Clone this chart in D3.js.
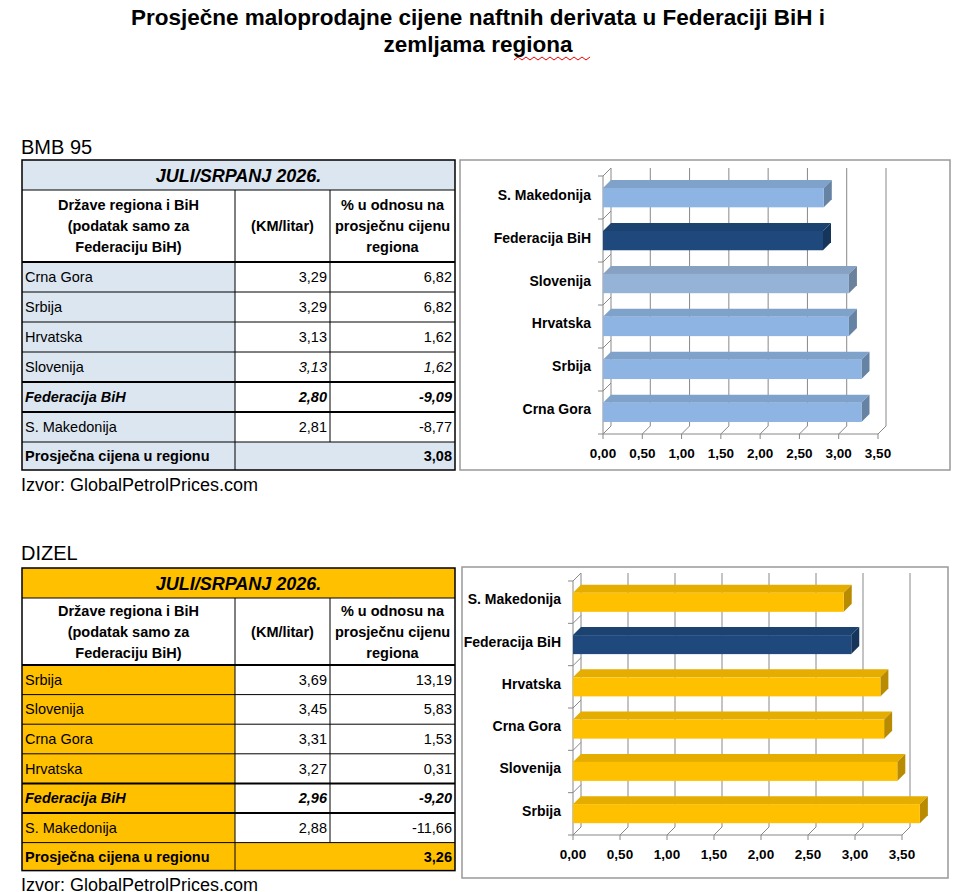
<!DOCTYPE html>
<html><head><meta charset="utf-8">
<script src="https://cdn.jsdelivr.net/npm/d3@7"></script>
<style>body{margin:0;background:#fff}</style>
</head><body>
<script>
const W = 969, H = 892;
const narrow = '"Liberation Sans Narrow","Arial Narrow","Liberation Sans",sans-serif';

// BMB 95 table
const bmbCountries = ["Crna Gora", "Srbija", "Hrvatska", "Slovenija", "Federacija BiH", "S. Makedonija"];
const bmbPrices = ["3,29", "3,29", "3,13", "3,13", "2,80", "2,81"];
const bmbPct = ["6,82", "6,82", "1,62", "1,62", "-9,09", "-8,77"];
const bmbAvg = "3,08";
// BMB chart (top to bottom)
const bmbBarNames = ["S. Makedonija", "Federacija BiH", "Slovenija", "Hrvatska", "Srbija", "Crna Gora"];
const bmbBarValues = [2.81, 2.80, 3.13, 3.13, 3.29, 3.29];

// DIZEL table
const dizCountries = ["Srbija", "Slovenija", "Crna Gora", "Hrvatska", "Federacija BiH", "S. Makedonija"];
const dizPrices = ["3,69", "3,45", "3,31", "3,27", "2,96", "2,88"];
const dizPct = ["13,19", "5,83", "1,53", "0,31", "-9,20", "-11,66"];
const dizAvg = "3,26";
const dizBarNames = ["S. Makedonija", "Federacija BiH", "Hrvatska", "Crna Gora", "Slovenija", "Srbija"];
const dizBarValues = [2.88, 2.96, 3.27, 3.31, 3.45, 3.69];

const ticks = [0, 0.5, 1, 1.5, 2, 2.5, 3, 3.5];
const fmt = v => v.toFixed(2).replace(".", ",");

const svg = d3.select("body").append("svg").attr("width", W).attr("height", H)
  .style("font-family", "Arial, 'Liberation Sans', sans-serif");

svg.append("text").attr("x", 478).attr("y", 25).attr("text-anchor", "middle")
  .attr("font-size", 22.5).attr("font-weight", "bold")
  .text("Prosječne maloprodajne cijene naftnih derivata u Federaciji BiH i");
svg.append("text").attr("x", 478).attr("y", 52).attr("text-anchor", "middle")
  .attr("font-size", 22.5).attr("font-weight", "bold").text("zemljama regiona");
// spell-check squiggle under "regiona"
svg.append("path").attr("d", d3.range(514, 594, 4).map((x, i) => (i ? "L" : "M") + x + "," + (i % 2 ? 57 : 60)).join(""))
  .attr("fill", "none").attr("stroke", "#e00").attr("stroke-width", 1);

function drawTable(g, cfg) {
  const {x0, y0, countries, prices, pct, avg, fill, colFill, rowH, headH} = cfg;
  const cx = [x0, 235, 330, 455];
  const t = g.append("g");
  t.append("rect").attr("x", cx[0]).attr("y", y0).attr("width", cx[3] - cx[0]).attr("height", 30).attr("fill", fill);
  t.append("text").attr("x", (cx[0] + cx[3]) / 2).attr("y", y0 + 22).attr("text-anchor", "middle")
    .attr("font-family", narrow).attr("font-size", 18).attr("font-weight", "bold").attr("font-style", "italic")
    .text("JULI/SRPANJ 2026.");
  const hy = y0 + 30;
  const headers = [["Države regiona i BiH", "(podatak samo za", "Federaciju BiH)"], ["(KM/litar)"], ["% u odnosu na", "prosječnu cijenu", "regiona"]];
  headers.forEach((lines, c) => {
    const n = lines.length;
    lines.forEach((l, i) => t.append("text").attr("x", (cx[c] + cx[c + 1]) / 2)
      .attr("y", hy + headH / 2 + 5 + (i - (n - 1) / 2) * 21).attr("text-anchor", "middle")
      .attr("font-family", narrow).attr("font-size", 14.5).attr("font-weight", "bold").text(l));
  });
  const ry = hy + headH;
  countries.forEach((c, i) => {
    const y = ry + i * rowH;
    const fed = c === "Federacija BiH";
    const ital = c === "Slovenija" && cfg.italicSlo;
    t.append("rect").attr("x", cx[0]).attr("y", y).attr("width", cx[1] - cx[0]).attr("height", rowH).attr("fill", colFill);
    t.append("text").attr("x", cx[0] + 3).attr("y", y + rowH / 2 + 5).attr("font-family", narrow).attr("font-size", 14.5)
      .attr("font-weight", fed ? "bold" : null).attr("font-style", fed ? "italic" : null).text(c);
    [prices[i], pct[i]].forEach((v, k) => t.append("text").attr("x", cx[k + 2] - 3).attr("y", y + rowH / 2 + 5)
      .attr("text-anchor", "end").attr("font-family", narrow).attr("font-size", 14.5)
      .attr("font-weight", fed ? "bold" : null).attr("font-style", fed || ital ? "italic" : null).text(v));
    t.append("line").attr("x1", cx[0]).attr("x2", cx[3]).attr("y1", y).attr("y2", y)
      .attr("stroke", "#000").attr("stroke-width", (i === 0 || fed || countries[i - 1] === "Federacija BiH") ? 2 : 1);
  });
  const sy = ry + countries.length * rowH;
  const sh = cfg.sumH;
  t.append("rect").attr("x", cx[0]).attr("y", sy).attr("width", cx[3] - cx[0]).attr("height", sh).attr("fill", fill);
  t.append("text").attr("x", cx[0] + 3).attr("y", sy + sh / 2 + 5).attr("font-family", narrow).attr("font-size", 14.5)
    .attr("font-weight", "bold").text("Prosječna cijena u regionu");
  t.append("text").attr("x", cx[3] - 3).attr("y", sy + sh / 2 + 5).attr("text-anchor", "end").attr("font-family", narrow)
    .attr("font-size", 14.5).attr("font-weight", "bold").text(avg);
  t.append("line").attr("x1", cx[0]).attr("x2", cx[3]).attr("y1", sy).attr("y2", sy).attr("stroke", "#000").attr("stroke-width", 1);
  t.append("line").attr("x1", cx[0]).attr("x2", cx[3]).attr("y1", hy).attr("y2", hy).attr("stroke", "#000").attr("stroke-width", 1);
  t.append("line").attr("x1", cx[1]).attr("x2", cx[1]).attr("y1", hy).attr("y2", sy + sh).attr("stroke", "#000");
  t.append("line").attr("x1", cx[2]).attr("x2", cx[2]).attr("y1", hy).attr("y2", sy).attr("stroke", "#000");
  t.append("rect").attr("x", cx[0]).attr("y", y0).attr("width", cx[3] - cx[0]).attr("height", sy + sh - y0)
    .attr("fill", "none").attr("stroke", "#000").attr("stroke-width", 1.5);
}

function drawChart(g, cfg) {
  const {box, x0, x35, top, floor, names, values, color, colors} = cfg;
  const dx = 8, dy = -8;
  g.append("rect").attr("x", box[0]).attr("y", box[1]).attr("width", box[2]).attr("height", box[3])
    .attr("fill", "#fff").attr("stroke", "#999").attr("stroke-width", 1.5);
  const x = d3.scaleLinear().domain([0, 3.5]).range([x0, x35]);
  const y = d3.scaleBand().domain(names).range([top - dy, floor]).paddingInner(0.55).paddingOuter(0.28);
  const grid = "#888";
  ticks.forEach(t => {
    g.append("line").attr("x1", x(t) + dx).attr("x2", x(t) + dx).attr("y1", top).attr("y2", floor + dy).attr("stroke", grid);
    g.append("line").attr("x1", x(t) + dx).attr("x2", x(t)).attr("y1", floor + dy).attr("y2", floor).attr("stroke", grid);
    g.append("line").attr("x1", x(t)).attr("x2", x(t)).attr("y1", floor).attr("y2", floor + 5).attr("stroke", grid);
    g.append("text").attr("x", x(t)).attr("y", floor + 24).attr("text-anchor", "middle")
      .attr("font-family", narrow).attr("font-size", 13.5).attr("font-weight", "bold").text(fmt(t));
  });
  g.append("line").attr("x1", x0).attr("x2", x35).attr("y1", floor).attr("y2", floor).attr("stroke", grid);
  g.append("line").attr("x1", x0).attr("x2", x0).attr("y1", top - dy).attr("y2", floor).attr("stroke", grid);
  const step = (floor - (top - dy)) / names.length;
  d3.range(names.length + 1).forEach(i => {
    const yy = top - dy + i * step;
    g.append("line").attr("x1", x0 - 5).attr("x2", x0).attr("y1", yy).attr("y2", yy).attr("stroke", grid);
    g.append("line").attr("x1", x0).attr("x2", x0 + dx).attr("y1", yy).attr("y2", yy + dy).attr("stroke", grid);
  });
  names.forEach((n, i) => {
    const c = colors[i] || color;
    const bx = x0, by = y(n), bw = x(values[i]) - x0, bh = y.bandwidth();
    g.append("path").attr("d", `M${bx},${by}L${bx + dx},${by + dy}L${bx + bw + dx},${by + dy}L${bx + bw},${by}Z`)
      .attr("fill", d3.color(c).darker(0.3));
    g.append("path").attr("d", `M${bx + bw},${by}L${bx + bw + dx},${by + dy}L${bx + bw + dx},${by + bh + dy}L${bx + bw},${by + bh}Z`)
      .attr("fill", d3.color(c).darker(0.9));
    g.append("rect").attr("x", bx).attr("y", by).attr("width", bw).attr("height", bh).attr("fill", c);
    g.append("text").attr("x", x0 - 12).attr("y", by + bh / 2 + 2).attr("text-anchor", "end")
      .attr("font-family", narrow).attr("font-size", 14).attr("font-weight", "bold").text(n);
  });
}

// BMB 95
svg.append("text").attr("x", 21).attr("y", 154).attr("font-size", 20).text("BMB 95");
drawTable(svg, {x0: 22, y0: 160, countries: bmbCountries, prices: bmbPrices, pct: bmbPct, avg: bmbAvg,
  fill: "#dce6f1", colFill: "#dce6f1", rowH: 30, headH: 72, sumH: 28, italicSlo: true});
svg.append("text").attr("x", 21).attr("y", 491).attr("font-size", 18).text("Izvor: GlobalPetrolPrices.com");
drawChart(svg, {box: [460, 160, 490, 310], x0: 603, x35: 878, top: 168, floor: 434,
  names: bmbBarNames, values: bmbBarValues, color: "#8db4e2", colors: [null, "#1f497d", "#95b3d7"]});

// DIZEL
svg.append("text").attr("x", 21).attr("y", 560).attr("font-size", 20).text("DIZEL");
drawTable(svg, {x0: 22, y0: 568, countries: dizCountries, prices: dizPrices, pct: dizPct, avg: dizAvg,
  fill: "#ffc000", colFill: "#ffc000", rowH: 29.6, headH: 67, sumH: 28, italicSlo: false});
svg.append("text").attr("x", 21).attr("y", 891).attr("font-size", 18).text("Izvor: GlobalPetrolPrices.com");
drawChart(svg, {box: [462, 567, 486, 311], x0: 573, x35: 902, top: 573, floor: 835,
  names: dizBarNames, values: dizBarValues, color: "#ffc000", colors: [null, "#1f497d"]});
</script>
</body></html>
